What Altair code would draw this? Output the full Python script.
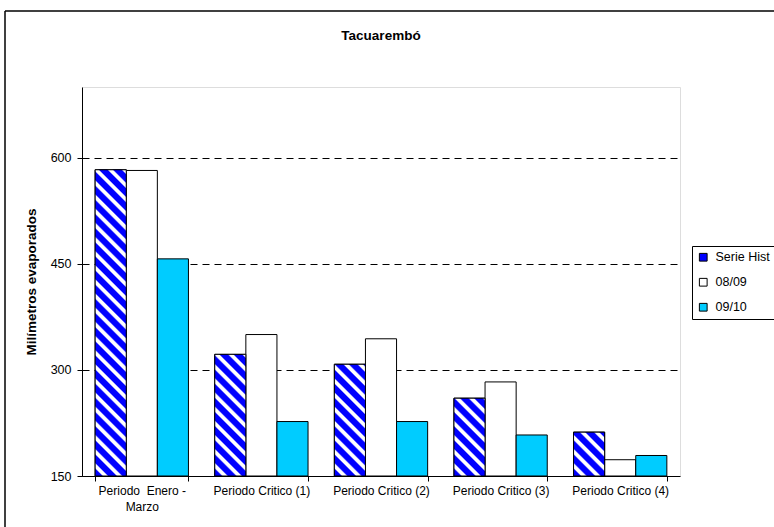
import math
import altair as alt
import pandas as pd

# --- values -------------------------------------------------------------
titulo = "Tacuarembó"
periodos = [
    "Periodo\u00a0 Enero -\nMarzo",
    "Periodo Critico (1)",
    "Periodo Critico (2)",
    "Periodo Critico (3)",
    "Periodo Critico (4)",
]
series = ["Serie Hist", "08/09", "09/10"]
serie_hist = [583, 322, 308, 260, 212]
temporada_0809 = [582, 350, 344, 283, 173]
temporada_0910 = [457, 227, 227, 208, 179]
y_ticks = [150, 300, 450, 600]
y_domain = [150, 700]

# --- layout / style -----------------------------------------------------
PLOT_W, PLOT_H = 598, 389
PAD_INNER, PAD_OUTER = 0.22, 0.11
BLUE, WHITE, CYAN = "#0000FF", "#FFFFFF", "#00CCFF"
FONT = "Liberation Sans"

rows = []
for i, p in enumerate(periodos):
    for s, vals in zip(series, [serie_hist, temporada_0809, temporada_0910]):
        rows.append({"idx": i, "Periodo": p, "Serie": s, "valor": vals[i]})
df = pd.DataFrame(rows)

# width of a single bar in pixels (band scale arithmetic)
step = PLOT_W / (len(periodos) - PAD_INNER + 2 * PAD_OUTER)
bar_w = step * (1 - PAD_INNER) / len(series)


def stripe_gradient(value, period=10.0):
    """Linear gradient imitating a blue/white diagonal hatch on one bar."""
    h = (value - y_domain[0]) / (y_domain[1] - y_domain[0]) * PLOT_H
    w = bar_w
    k = (w + h) / (w * w + h * h)
    length = (w + h) / math.sqrt(2)
    pattern = [(0.0, BLUE), (4.8, BLUE), (6.0, WHITE), (8.6, WHITE), (9.8, BLUE)]
    stops = []
    last = -1.0
    j = 0
    while j * period <= length:
        for off, col in pattern:
            t = round((j * period + off) / length, 5)
            if t > 1:
                break
            if t > last:
                stops.append({"offset": t, "color": col})
                last = t
        j += 1
    return {
        "gradient": "linear",
        "x1": 0, "y1": 1,
        "x2": round(w * k, 5), "y2": round(1 - h * k, 5),
        "stops": stops,
    }


x_enc = alt.X(
    "Periodo:N",
    sort=periodos,
    scale=alt.Scale(paddingInner=PAD_INNER, paddingOuter=PAD_OUTER),
    axis=alt.Axis(
        title=None,
        labelAngle=0,
        tickBand="extent",
        labelExpr="split(datum.label, '\\n')",
        labelFontSize=12,
        labelFont=FONT,
        labelColor="black",
        labelLineHeight=16,
        labelPadding=4,
        labelLimit=200,
        tickSize=5,
        tickColor="black",
        domainColor="black",
        grid=False,
    ),
)
xoff_enc = alt.XOffset(
    "Serie:N", sort=series,
    scale=alt.Scale(domain=series, paddingInner=0, paddingOuter=0),
)
y_enc = alt.Y(
    "valor:Q",
    scale=alt.Scale(domain=y_domain, zero=False, nice=False),
    axis=alt.Axis(
        values=y_ticks,
        title="Milímetros evaporados",
        titleFont=FONT,
        titleFontSize=13.5,
        titleFontWeight="bold",
        titleColor="black",
        titlePadding=12,
        labelFont=FONT,
        labelFontSize=12.5,
        labelColor="black",
        labelPadding=6,
        tickSize=5,
        tickColor="black",
        domainColor="black",
        grid=True,
        gridColor="black",
        gridDash=[7, 5],
        gridWidth=1,
    ),
)

base = alt.Chart(df)

bars = base.mark_bar(stroke="black", strokeWidth=1).encode(
    x=x_enc,
    xOffset=xoff_enc,
    y=y_enc,
    y2=alt.datum(y_domain[0]),
    fill=alt.Fill(
        "Serie:N",
        sort=series,
        scale=alt.Scale(domain=series, range=[BLUE, WHITE, CYAN]),
        legend=alt.Legend(
            title=None,
            orient="none",
            legendX=610,
            legendY=159,
            strokeColor="black",
            fillColor="white",
            padding=5,
            symbolType="square",
            symbolSize=60,
            symbolStrokeColor="black",
            symbolStrokeWidth=1,
            labelFont=FONT,
            labelFontSize=12.5,
            labelColor="black",
            labelOffset=6,
            rowPadding=12,
            labelExpr="datum.label == 'Serie Hist' ? 'Serie Hist' + '\u00a0\u00a0\u00a0\u00a0\u00a0\u00a0\u00a0\u00a0\u00a0\u00a0' : datum.label",
        ),
    ),
)

# hatched overlay for the historical series
hatch_fill = {
    "condition": [
        {"test": f"datum.idx === {i}", "value": stripe_gradient(v)}
        for i, v in enumerate(serie_hist)
    ],
    "value": BLUE,
}
hatch = base.transform_filter(alt.datum.Serie == "Serie Hist").mark_bar(
    stroke="black", strokeWidth=1
).encode(
    x=x_enc,
    xOffset=xoff_enc,
    y=y_enc,
    y2=alt.datum(y_domain[0]),
    fill=hatch_fill,
)

# outer chart frame (top and left edges) and the heading
single = alt.Chart(pd.DataFrame({"k": [0]}))
frame_top = single.mark_rule(color="black", strokeWidth=1.5).encode(
    x=alt.value(-77), x2=alt.value(720), y=alt.value(-76)
)
frame_left = single.mark_rule(color="black", strokeWidth=1.5).encode(
    x=alt.value(-77), y=alt.value(-76), y2=alt.value(460)
)
heading = single.mark_text(
    text=titulo, font=FONT, fontSize=13.5, fontWeight="bold", color="black",
    align="center", baseline="middle",
).encode(x=alt.value(PLOT_W / 2), y=alt.value(-51))

chart = (
    alt.layer(bars, hatch, frame_top, frame_left, heading)
    .properties(
        width=PLOT_W,
        height=PLOT_H,
        autosize=alt.AutoSizeParams(type="none"),
        padding={"left": 82, "top": 87, "right": 94, "bottom": 51},
    )
    .configure_view(stroke="#808080", strokeWidth=1)
    .configure(background="white")
)

chart.save("out.html", embed_options={"renderer": "svg", "actions": False})
